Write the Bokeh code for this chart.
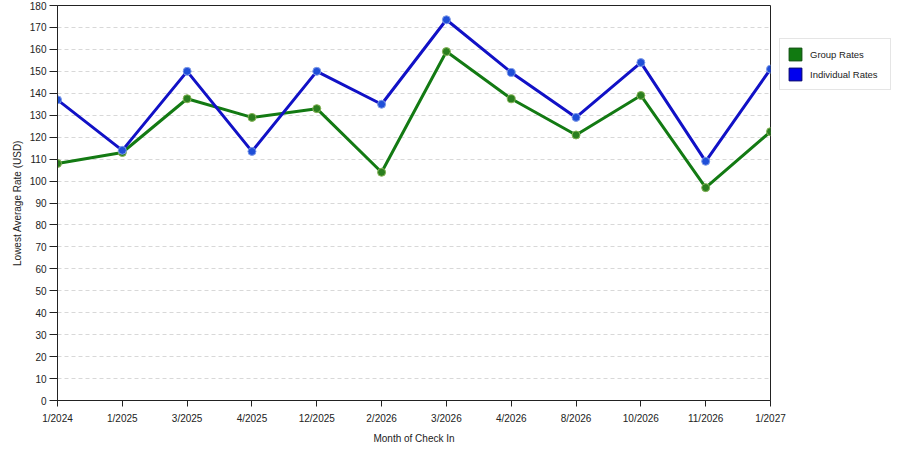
from bokeh.plotting import figure
from bokeh.models import FixedTicker, Legend, LegendItem
from bokeh.embed import file_html
from bokeh.resources import INLINE

# data
months = ["1/2024", "1/2025", "3/2025", "4/2025", "12/2025", "2/2026",
          "3/2026", "4/2026", "8/2026", "10/2026", "11/2026", "1/2027"]
group_rates = [108, 113, 137.5, 129, 133, 104, 159, 137.5, 121, 139, 97, 122.5]
individual_rates = [137, 114, 150, 113.5, 150, 135, 173.5, 149.5, 129, 154, 109, 151]
y_ticks = list(range(0, 181, 10))

x = list(range(len(months)))

p = figure(frame_width=713, frame_height=395, x_range=(0, len(months) - 1),
           y_range=(0, 180), output_backend="svg", toolbar_location=None,
           min_border_left=57, min_border_top=5, min_border_bottom=42,
           min_border_right=120)

p.background_fill_color = "white"
p.border_fill_color = "white"
p.outline_line_color = "#222222"
p.outline_line_width = 1

# grid: only dashed horizontal lines
p.xgrid.grid_line_color = None
p.ygrid.grid_line_color = "#d8d8d8"
p.ygrid.grid_line_dash = "4 3"

font = "Liberation Sans"
for ax in (p.xaxis, p.yaxis):
    ax.axis_line_color = "#222222"
    ax.major_tick_line_color = "#222222"
    ax.minor_tick_line_color = None
    ax.major_tick_in = 0
    ax.major_tick_out = 6
    ax.major_label_text_font = font
    ax.major_label_text_font_size = "10px"
    ax.major_label_text_color = "#222222"
    ax.axis_label_text_font = font
    ax.axis_label_text_font_size = "10px"
    ax.axis_label_text_font_style = "normal"
    ax.axis_label_text_color = "#222222"

p.xaxis.ticker = FixedTicker(ticks=x)
p.xaxis.major_label_overrides = {i: m for i, m in enumerate(months)}
p.xaxis.axis_label = "Month of Check In"
p.xaxis.major_label_standoff = 6
p.xaxis.axis_label_standoff = 6

p.yaxis.ticker = FixedTicker(ticks=y_ticks)
p.yaxis.axis_label = "Lowest Average Rate (USD)"
p.yaxis.major_tick_out = 8
p.yaxis.major_label_standoff = 3
p.yaxis.axis_label_standoff = 4

# square swatches for the legend: hidden renderers, drawn only in the legend
g_sw = p.rect(x[:1], group_rates[:1], width=1, height=1,
              fill_color="#117a11", line_color="#0a4a0a", visible=False)
b_sw = p.rect(x[:1], individual_rates[:1], width=1, height=1,
              fill_color="#0000ee", line_color="#00006a", visible=False)

# lines and markers
p.line(x, group_rates, line_color="#137a13", line_width=3)
p.scatter(x, group_rates, size=8, fill_color="#2b7f1f", line_color="#86b356")
p.line(x, individual_rates, line_color="#1111c6", line_width=3)
p.scatter(x, individual_rates, size=8, fill_color="#1f4fd8", line_color="#7f9be8")

legend = Legend(items=[LegendItem(label="Group Rates", renderers=[g_sw]),
                       LegendItem(label="Individual Rates", renderers=[b_sw])],
                location=(9, 310))
legend.margin = 0
legend.padding = 7
legend.spacing = 4
legend.glyph_width = 16
legend.glyph_height = 16
legend.label_standoff = 7
legend.label_height = 16
legend.label_width = 73
legend.label_text_font = font
legend.label_text_font_size = "9.5px"
legend.label_text_color = "#222222"
legend.border_line_color = "#cccccc"
legend.background_fill_color = "white"
legend.inactive_fill_alpha = 0
legend.click_policy = "none"
p.add_layout(legend, "right")

open("out.html", "w").write(file_html(p, INLINE))
